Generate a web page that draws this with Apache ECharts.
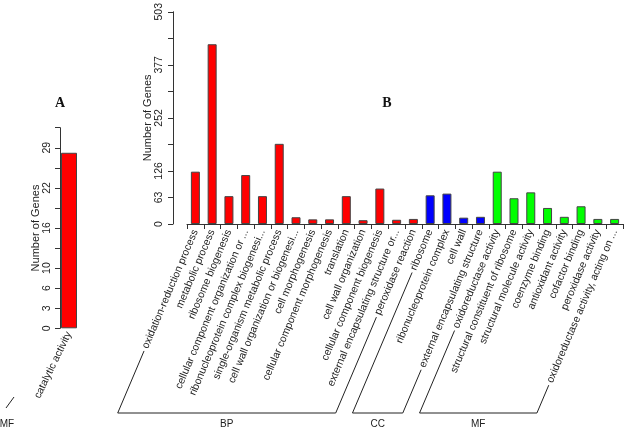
<!DOCTYPE html>
<html><head><meta charset="utf-8">
<script src="https://cdn.jsdelivr.net/npm/echarts@6/dist/echarts.min.js"></script>
<style>html,body{margin:0;padding:0;background:#fff}#c{width:625px;height:435px}</style>
</head><body><div id="c"></div>
<script>
// ---- data ----
const categories = [
  'oxidation-reduction process','metabolic process','ribosome biogenesis',
  'cellular component organization or ...','ribonucleoprotein complex biogenesi...',
  'single-organism metabolic process','cell wall organization or biogenesi...',
  'cell morphogenesis','cellular component morphogenesis','translation',
  'cell wall organization','cellular component biogenesis',
  'external encapsulating structure or...','peroxidase reaction',
  'ribosome','ribonucleoprotein complex','cell wall','external encapsulating structure',
  'oxidoreductase activity','structural constituent of ribosome','structural molecule activity',
  'coenzyme binding','antioxidant activity','cofactor binding','peroxidase activity',
  'oxidoreductase activity, acting on ...'
];
const values = [124,426,66,116,66,190,16,11,11,66,9,84,10,12, 68,72,15,17, 124,61,75,38,17,42,12,12];
const groupNames = ['BP','CC','MF'];
const groupSizes = [14,4,8];
const groupColors = ['#ff0000','#0000ff','#00ff00'];
const mainTickLabels = ['0','63','126','','252','','377','','503'];
const mainMax = 503;

const leftCategories = ['catalytic activity'];
const leftValues = [28];
const leftGroupName = 'MF';
const leftColor = '#ff0000';
const leftTickLabels = ['0','3','6','10','','16','','22','','29',''];
const leftMax = 32;

// ---- build ----
const FONT = 'Liberation Sans';
const LABEL_SIZE = 10.5;
const ROT = 67;
const MARGIN = 6;
const groupIndex = [];
groupSizes.forEach((n, g) => { for (let k = 0; k < n; k++) groupIndex.push(g); });

const chart = echarts.init(document.getElementById('c'), null, {renderer: 'canvas'});
const mainInterval = mainMax / (mainTickLabels.length - 1);
const leftInterval = leftMax / (leftTickLabels.length - 1);

const axisColor = '#333';
const option = {
  animation: false,
  backgroundColor: '#fff',
  grid: [
    {left: 187, right: 2, top: 10, bottom: 211},
    {left: 60, width: 18, top: 127.7, bottom: 106.7}
  ],
  xAxis: [
    {type: 'category', gridIndex: 0, data: categories,
     axisLine: {lineStyle: {color: axisColor, width: 1}},
     axisTick: {show: true, length: 5, lineStyle: {color: axisColor}},
     axisLabel: {interval: 0, rotate: ROT, fontSize: LABEL_SIZE, fontFamily: FONT, color: '#222', margin: MARGIN}},
    {type: 'category', gridIndex: 1, data: leftCategories,
     axisLine: {show: false}, axisTick: {show: false},
     axisLabel: {interval: 0, rotate: 64, fontSize: LABEL_SIZE, fontFamily: FONT, color: '#222', margin: 4}}
  ],
  yAxis: [
    {type: 'value', gridIndex: 0, min: 0, max: mainMax, interval: mainInterval, offset: 14,
     splitLine: {show: false},
     axisLine: {show: true, lineStyle: {color: axisColor}},
     axisTick: {show: true, length: 5, lineStyle: {color: axisColor}},
     axisLabel: {rotate: 90, fontSize: 10.5, fontFamily: FONT, color: '#222', margin: 8,
       formatter: v => mainTickLabels[Math.round(v / mainInterval)] || ''},
     name: 'Number of Genes', nameLocation: 'middle', nameRotate: 90, nameGap: 20, nameMoveOverlap: false,
     nameTextStyle: {fontSize: 11, fontFamily: FONT, color: '#222'}},
    {type: 'value', gridIndex: 1, min: 0, max: leftMax, interval: leftInterval,
     splitLine: {show: false},
     axisLine: {show: true, lineStyle: {color: axisColor}},
     axisTick: {show: true, length: 5, lineStyle: {color: axisColor}},
     axisLabel: {rotate: 90, fontSize: 10.5, fontFamily: FONT, color: '#222', margin: 7,
       formatter: v => leftTickLabels[Math.round(v / leftInterval)] || ''},
     name: 'Number of Genes', nameLocation: 'middle', nameRotate: 90, nameGap: 19, nameMoveOverlap: false,
     nameTextStyle: {fontSize: 11, fontFamily: FONT, color: '#222'}}
  ],
  series: [
    {type: 'bar', xAxisIndex: 0, yAxisIndex: 0, barWidth: 9,
     data: values.map((v, i) => ({value: v, itemStyle: {color: groupColors[groupIndex[i]]}})),
     itemStyle: {borderColor: '#444', borderWidth: 1}},
    {type: 'bar', xAxisIndex: 1, yAxisIndex: 1, barWidth: 16,
     data: leftValues.map(v => ({value: v, itemStyle: {color: leftColor}})),
     itemStyle: {borderColor: '#444', borderWidth: 1}}
  ]
};
chart.setOption(option);

// ---- brackets (decorations derived from layout) ----
const ctx = document.createElement('canvas').getContext('2d');
ctx.font = LABEL_SIZE + 'px "' + FONT + '"';
const th = ROT * Math.PI / 180;
const dir = [-Math.cos(th), Math.sin(th)];
const axisY = chart.convertToPixel({yAxisIndex: 0}, 0);
const anchorY = axisY + MARGIN;
const baseY = 413;
const graphics = [];
let start = 0;
groupSizes.forEach((n, g) => {
  const i0 = start, i1 = start + n - 1;
  start += n;
  const pts = [i0, i1].map(i => {
    const cx = chart.convertToPixel({xAxisIndex: 0}, i);
    const L = ctx.measureText(categories[i]).width + 3;
    const s = [cx + dir[0] * L, anchorY + dir[1] * L];
    const t = (baseY - anchorY) / dir[1];
    const b = [cx + dir[0] * t, baseY];
    return {s, b};
  });
  graphics.push({type: 'polyline', silent: true,
    shape: {points: [pts[0].s, pts[0].b, pts[1].b, pts[1].s]},
    style: {stroke: '#222', lineWidth: 1, fill: null}});
  graphics.push({type: 'text', silent: true,
    x: (pts[0].b[0] + pts[1].b[0]) / 2, y: 424,
    style: {text: groupNames[g], fontSize: 10, fontFamily: FONT, fill: '#222', align: 'center', verticalAlign: 'middle'}});
});
graphics.push({type: 'line', silent: true, shape: {x1: 6, y1: 408, x2: 14, y2: 397}, style: {stroke: '#222', lineWidth: 1}});
graphics.push({type: 'text', silent: true, x: 7, y: 424,
  style: {text: leftGroupName, fontSize: 10, fontFamily: FONT, fill: '#222', align: 'center', verticalAlign: 'middle'}});
graphics.push({type: 'text', silent: true, x: 60, y: 103,
  style: {text: 'A', fontSize: 14, fontWeight: 'bold', fontFamily: 'Liberation Serif', fill: '#111', align: 'center', verticalAlign: 'middle'}});
graphics.push({type: 'text', silent: true, x: 387, y: 103,
  style: {text: 'B', fontSize: 14, fontWeight: 'bold', fontFamily: 'Liberation Serif', fill: '#111', align: 'center', verticalAlign: 'middle'}});
chart.setOption({graphic: graphics});
</script>
</body></html>
